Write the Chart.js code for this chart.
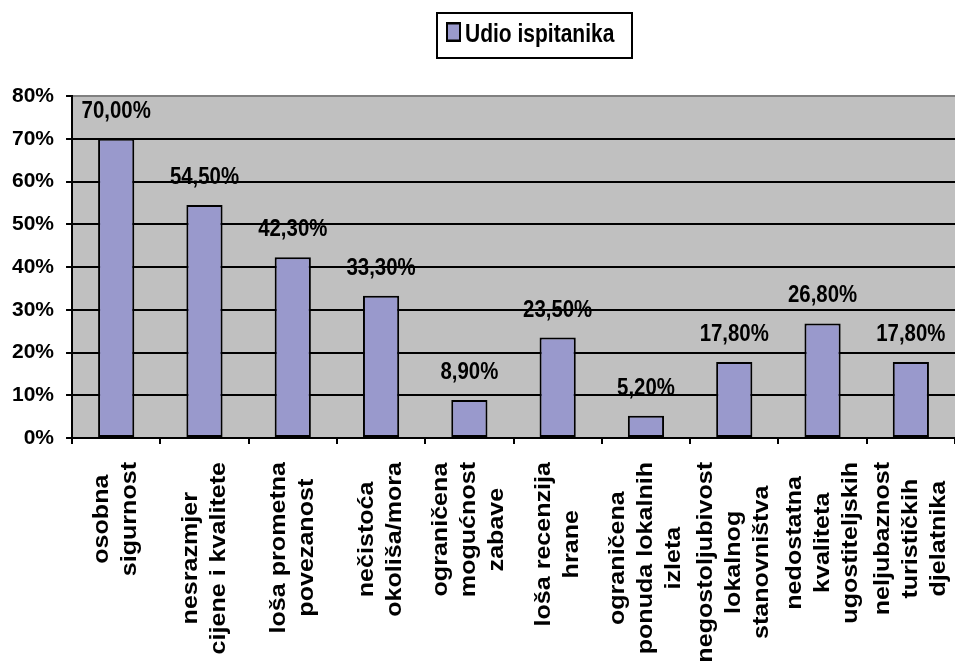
<!DOCTYPE html>
<html>
<head>
<meta charset="utf-8">
<script src="https://cdn.jsdelivr.net/npm/chart.js@4.4.1/dist/chart.umd.min.js"></script>
<style>
  html, body { margin: 0; padding: 0; background: #fff; }
  canvas { display: block; }
</style>
</head>
<body>
<canvas id="udioChart" width="955" height="665"></canvas>
<script>
// razlozi nezadovoljstva - udio ispitanika (%)
const categories = [
  ["osobna", "sigurnost"],
  ["nesrazmjer", "cijene i kvalitete"],
  ["loša prometna", "povezanost"],
  ["nečistoća", "okoliša/mora"],
  ["ograničena", "mogućnost", "zabave"],
  ["loša recenzija", "hrane"],
  ["ograničena", "ponuda lokalnih", "izleta"],
  ["negostoljubivost", "lokalnog", "stanovništva"],
  ["nedostatna", "kvaliteta", "ugostiteljskih"],
  ["neljubaznost", "turističkih", "djelatnika"],
];
const udioIspitanika = [70.0, 54.5, 42.3, 33.3, 8.9, 23.5, 5.2, 17.8, 26.8, 17.8];
const yTicks = [0, 10, 20, 30, 40, 50, 60, 70, 80];
const seriesName = "Udio ispitanika";

const FONT = '"Liberation Sans", Arial, sans-serif';
const BAR_FILL = "#9999CC";
const PLOT_BG = "#C0C0C0";

const fmtPct = (v) => v.toFixed(2).replace(".", ",") + "%";

// siva pozadina područja grafa + okvir legende, oznake vrijednosti i kategorija
const excelLook = {
  id: "excelLook",
  beforeDraw(chart) {
    const { ctx, chartArea: a } = chart;
    ctx.save();
    ctx.fillStyle = PLOT_BG;
    ctx.fillRect(a.left, a.top, chart.width - a.left, a.bottom - a.top);
    ctx.restore();
  },
  afterDatasetsDraw(chart) {
    const { ctx } = chart;
    const meta = chart.getDatasetMeta(0);
    ctx.save();
    ctx.fillStyle = "#000";
    ctx.font = "bold 20px " + FONT;
    ctx.textAlign = "center";
    ctx.textBaseline = "alphabetic";
    meta.data.forEach((bar, i) => {
      ctx.save();
      ctx.translate(bar.x, bar.y - 21);
      ctx.scale(1.02, 1.2);
      ctx.fillText(fmtPct(udioIspitanika[i]), 0, 0);
      ctx.restore();
    });
    ctx.restore();
  },
  afterDraw(chart) {
    const { ctx } = chart;
    const xs = chart.scales.x;

    // nazivi kategorija, okrenuti za 90°
    ctx.save();
    ctx.fillStyle = "#000";
    ctx.font = "bold 22px " + FONT;
    ctx.textAlign = "center";
    ctx.textBaseline = "middle";
    categories.forEach((lines, i) => {
      const cx = xs.getPixelForValue(i);
      const maxW = Math.max(...lines.map((l) => ctx.measureText(l).width));
      ctx.save();
      ctx.translate(cx, 462);
      ctx.rotate(-Math.PI / 2);
      ctx.scale(1.14, 1);
      lines.forEach((line, j) => {
        ctx.fillText(line, -maxW / 2, (j - (lines.length - 1) / 2) * 28);
      });
      ctx.restore();
    });
    ctx.restore();

    // legenda
    ctx.save();
    ctx.fillStyle = "#fff";
    ctx.strokeStyle = "#000";
    ctx.lineWidth = 2;
    ctx.fillRect(437, 13, 195, 45);
    ctx.strokeRect(437, 13, 195, 45);
    ctx.translate(0, 42);
    ctx.scale(1, 1.25);
    ctx.fillStyle = BAR_FILL;
    ctx.fillRect(447, -15, 13, 14);
    ctx.strokeRect(447, -15, 13, 14);
    ctx.fillStyle = "#000";
    ctx.font = "bold 21px " + FONT;
    ctx.textBaseline = "alphabetic";
    ctx.fillText(seriesName, 465, 0);
    ctx.restore();
  },
};

new Chart(document.getElementById("udioChart").getContext("2d"), {
  type: "bar",
  data: {
    labels: categories,
    datasets: [
      {
        label: seriesName,
        data: udioIspitanika,
        backgroundColor: BAR_FILL,
        borderColor: "#000",
        borderWidth: 2,
        borderSkipped: false,
        categoryPercentage: 1,
        barPercentage: 0.41,
      },
    ],
  },
  options: {
    responsive: false,
    animation: false,
    layout: { padding: { top: 96, left: 0, right: 0, bottom: 221 } },
    plugins: {
      legend: { display: false },
      tooltip: { enabled: false },
    },
    scales: {
      x: {
        offset: true,
        grid: {
          offset: true,
          drawOnChartArea: false,
          tickLength: 6,
          color: "#000",
          lineWidth: 2,
        },
        border: { color: "#000", width: 2 },
        ticks: { display: false },
      },
      y: {
        min: 0,
        max: 80,
        afterBuildTicks: (scale) => {
          scale.ticks = yTicks.map((v) => ({ value: v }));
        },
        grid: {
          color: (c) => (c.tick && c.tick.value === 80 ? "#808080" : "#000"),
          tickColor: "#000",
          lineWidth: 2,
          tickLength: 6,
        },
        border: { color: "#000", width: 2 },
        ticks: {
          padding: 12,
          color: "#000",
          font: { family: FONT, size: 21, weight: "bold" },
          callback: (v) => v + "%",
        },
      },
    },
  },
  plugins: [excelLook],
});
</script>
</body>
</html>
